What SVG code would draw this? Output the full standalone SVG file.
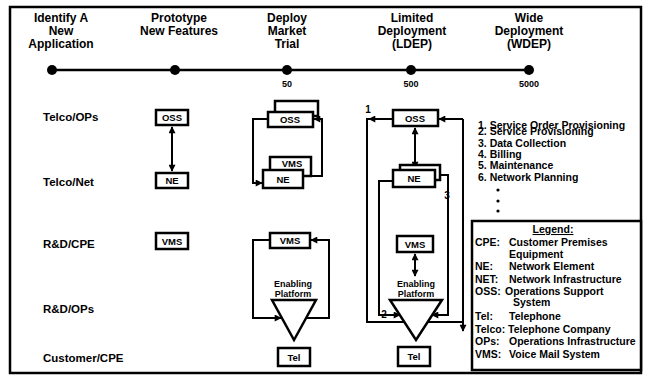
<svg xmlns="http://www.w3.org/2000/svg" width="649" height="381" viewBox="0 0 649 381">
<defs>
<marker id="ah" viewBox="0 0 10 10" refX="9" refY="5" markerWidth="8" markerHeight="7" orient="auto-start-reverse" markerUnits="userSpaceOnUse"><path d="M0,0 L10,5 L0,10 z" fill="#000"/></marker>
</defs>
<style>
text{font-family:"Liberation Sans",Arial,sans-serif;font-weight:bold;fill:#000}
.h{font-size:12px;text-anchor:middle}
.r{font-size:11.5px}
.b{font-size:9.5px;text-anchor:middle}
.n{font-size:9px;text-anchor:middle}
.f{font-size:10px;text-anchor:middle}
.ep{font-size:9px;text-anchor:middle}
.box{fill:#fff;stroke:#000;stroke-width:2.5}
.tri{fill:#fff;stroke:#000;stroke-width:2.5}
.ln{fill:none;stroke:#000;stroke-width:2}
.li{font-size:10.5px}
.lg{font-size:10.5px}
</style>
<rect x="10" y="7" width="631" height="366" fill="#fff" stroke="#000" stroke-width="2.5"/>

<g id="timeline">
<line x1="52" y1="70" x2="530" y2="70" stroke="#000" stroke-width="2.5"/>
<circle cx="52" cy="70" r="5"/>
<circle cx="175" cy="70" r="5"/>
<circle cx="287" cy="70" r="5"/>
<circle cx="411" cy="70" r="5"/>
<circle cx="529" cy="70" r="5"/>
<text class="n" x="287" y="87">50</text>
<text class="n" x="411" y="87">500</text>
<text class="n" x="529" y="87">5000</text>
</g>

<g id="headers">
<text class="h" x="61" y="22">Identify A</text>
<text class="h" x="61" y="35">New</text>
<text class="h" x="61" y="48">Application</text>
<text class="h" x="179" y="22">Prototype</text>
<text class="h" x="179" y="35">New Features</text>
<text class="h" x="287" y="22">Deploy</text>
<text class="h" x="287" y="35">Market</text>
<text class="h" x="287" y="48">Trial</text>
<text class="h" x="412" y="22">Limited</text>
<text class="h" x="412" y="35">Deployment</text>
<text class="h" x="412" y="48">(LDEP)</text>
<text class="h" x="529" y="22">Wide</text>
<text class="h" x="529" y="35">Deployment</text>
<text class="h" x="529" y="48">(WDEP)</text>
</g>

<g id="rows">
<text class="r" x="43" y="121">Telco/OPs</text>
<text class="r" x="43" y="186">Telco/Net</text>
<text class="r" x="43" y="248">R&amp;D/CPE</text>
<text class="r" x="43" y="313">R&amp;D/OPs</text>
<text class="r" x="43" y="362">Customer/CPE</text>
</g>

<g id="connectors">
<line class="ln" x1="172" y1="127" x2="172" y2="171" marker-start="url(#ah)" marker-end="url(#ah)"/>
<path class="ln" d="M268,119 H253 V183 H262" marker-end="url(#ah)"/>
<path class="ln" d="M311,176 H322 V119 H314" marker-end="url(#ah)"/>
<path class="ln" d="M270,240 H253 V318 H281" marker-end="url(#ah)"/>
<path class="ln" d="M306,318 H329 V240 H311" marker-end="url(#ah)"/>
<path class="ln" d="M393,119 H367 V322 H463"/>
<path class="ln" d="M380,119 H369" marker-end="url(#ah)"/>
<path class="ln" d="M463,119 H439" marker-end="url(#ah)"/>
<path class="ln" d="M463,119 V331" marker-end="url(#ah)"/>
<line class="ln" x1="415" y1="128" x2="415" y2="168" marker-start="url(#ah)" marker-end="url(#ah)"/>
<path class="ln" d="M393,181 H379 V315 H400" marker-end="url(#ah)"/>
<path class="ln" d="M440,175 H448 V315 H432" marker-end="url(#ah)"/>
<line class="ln" x1="415" y1="254" x2="415" y2="276" marker-start="url(#ah)" marker-end="url(#ah)"/>
</g>

<g id="c2-oss"><rect class="box" x="156" y="110" width="32" height="15"/><text class="b" x="172" y="121">OSS</text></g>
<g id="c2-ne"><rect class="box" x="156" y="173" width="32" height="15"/><text class="b" x="172" y="184">NE</text></g>
<g id="c2-vms"><rect class="box" x="156" y="233" width="32" height="16"/><text class="b" x="172" y="245">VMS</text></g>

<g id="c3-oss"><rect class="box" x="275" y="101" width="43" height="15"/><rect class="box" x="268" y="112" width="45" height="15"/><text class="b" x="290" y="123">OSS</text></g>
<g id="c3-vms-top"><rect class="box" x="270" y="157" width="41" height="19"/><text class="b" x="292" y="167">VMS</text></g>
<g id="c3-ne"><rect class="box" x="263" y="170" width="40" height="18"/><text class="b" x="283" y="183">NE</text></g>
<g id="c3-vms"><rect class="box" x="270" y="233" width="40" height="15"/><text class="b" x="290" y="244">VMS</text></g>
<g id="c3-platform"><polygon class="tri" points="272,300 316,300 294,340"/><text class="ep" x="293" y="287">Enabling</text><text class="ep" x="293" y="297">Platform</text></g>
<g id="c3-tel"><rect class="box" x="278" y="348" width="32" height="18"/><text class="b" x="294" y="361">Tel</text></g>

<g id="c4-oss"><rect class="box" x="393" y="110" width="45" height="16"/><text class="b" x="415" y="122">OSS</text></g>
<g id="c4-ne"><rect class="box" x="400" y="165" width="40" height="15"/><rect class="box" x="393" y="170" width="42" height="17"/><text class="b" x="414" y="182">NE</text></g>
<g id="c4-vms"><rect class="box" x="397" y="236" width="36" height="16"/><text class="b" x="415" y="248">VMS</text></g>
<g id="c4-platform"><polygon class="tri" points="390,300 442,300 416,340"/><text class="ep" x="416" y="287">Enabling</text><text class="ep" x="416" y="297">Platform</text></g>
<g id="c4-tel"><rect class="box" x="398" y="347" width="32" height="19"/><text class="b" x="414" y="360">Tel</text></g>
<g id="flow-labels">
<text class="f" x="368" y="113">1</text>
<text class="f" x="384" y="318">2</text>
<text class="f" x="447" y="199">3</text>
</g>

<g id="functions">
<text class="li" x="478" y="129">1. Service Order Provisioning</text>
<text class="li" x="478" y="135">2. Service Provisioning</text>
<text class="li" x="478" y="147">3. Data Collection</text>
<text class="li" x="478" y="158">4. Billing</text>
<text class="li" x="478" y="169">5. Maintenance</text>
<text class="li" x="478" y="181">6. Network Planning</text>
<circle cx="498" cy="190" r="1.6"/>
<circle cx="498" cy="201" r="1.6"/>
<circle cx="498" cy="211" r="1.6"/>
</g>

<g id="legend">
<rect x="472" y="221" width="169" height="149" fill="#fff" stroke="#000" stroke-width="2.5"/>
<text class="lg" x="553" y="233" text-anchor="middle" text-decoration="underline">Legend:</text>
<text class="lg" x="475" y="246">CPE:</text><text class="lg" x="509" y="246">Customer Premises</text>
<text class="lg" x="509" y="258">Equipment</text>
<text class="lg" x="475" y="270">NE:</text><text class="lg" x="509" y="270">Network Element</text>
<text class="lg" x="475" y="283">NET:</text><text class="lg" x="509" y="283">Network Infrastructure</text>
<text class="lg" x="475" y="295">OSS:</text><text class="lg" x="505" y="295">Operations Support</text>
<text class="lg" x="513" y="306">System</text>
<text class="lg" x="475" y="320">Tel:</text><text class="lg" x="509" y="320">Telephone</text>
<text class="lg" x="475" y="333">Telco:</text><text class="lg" x="508" y="333">Telephone Company</text>
<text class="lg" x="475" y="345">OPs:</text><text class="lg" x="509" y="345">Operations Infrastructure</text>
<text class="lg" x="475" y="358">VMS:</text><text class="lg" x="509" y="358">Voice Mail System</text>
</g>
</svg>
